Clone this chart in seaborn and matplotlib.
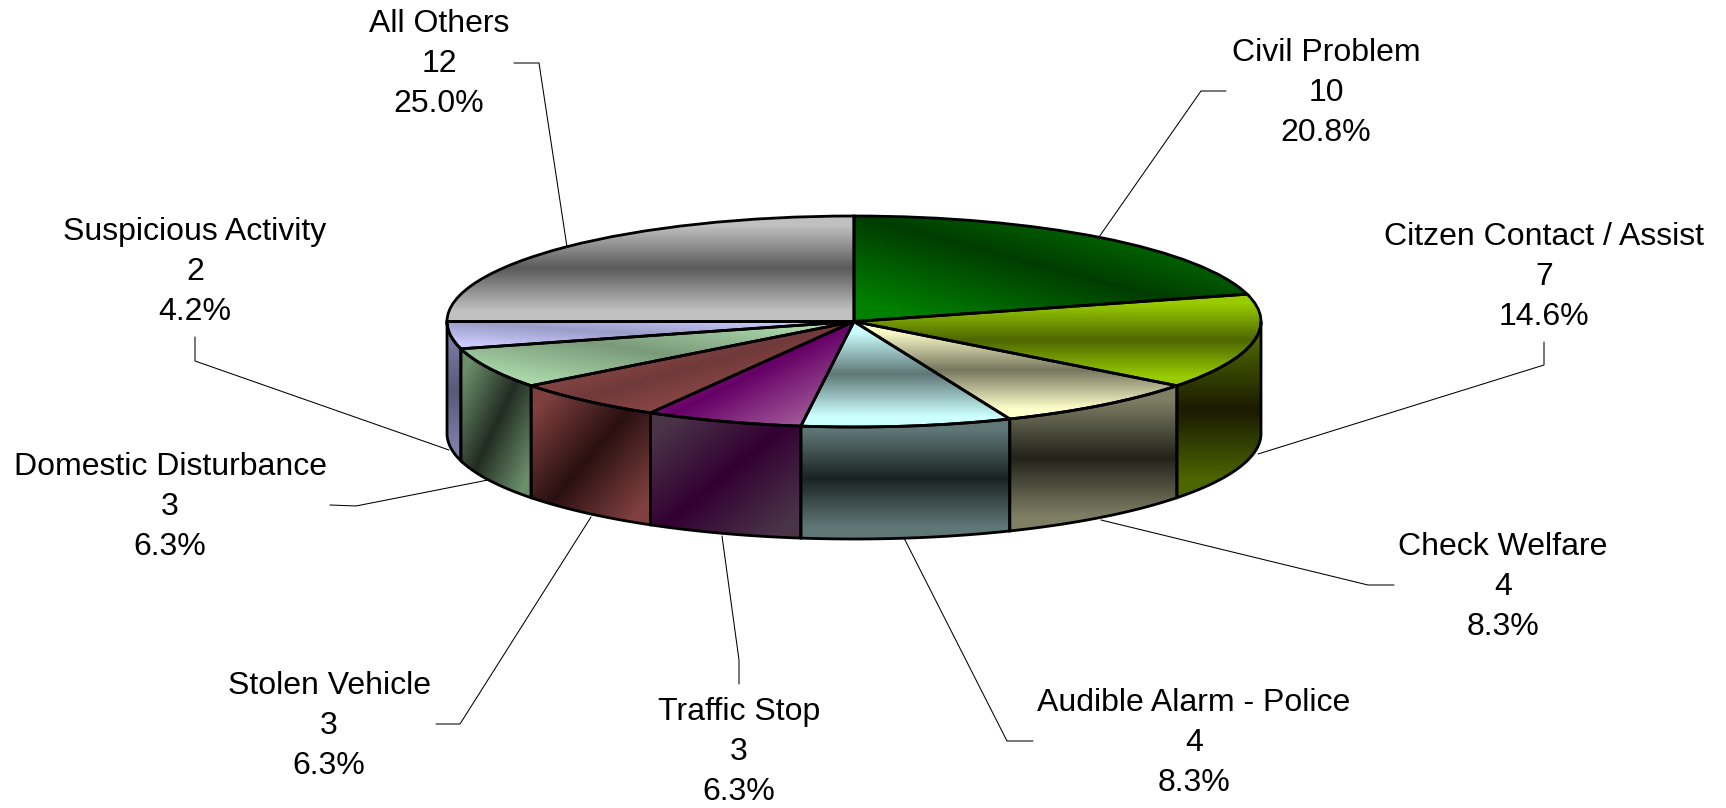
import matplotlib
matplotlib.use("Agg")
import matplotlib.pyplot as plt
import numpy as np
import seaborn as sns
from matplotlib.colors import to_rgb
from matplotlib.patches import Polygon

categories = ["Civil Problem", "Citzen Contact / Assist", "Check Welfare", "Audible Alarm - Police",
              "Traffic Stop", "Stolen Vehicle", "Domestic Disturbance", "Suspicious Activity", "All Others"]
counts = [10, 7, 4, 4, 3, 3, 3, 2, 12]
percents = ["20.8%", "14.6%", "8.3%", "8.3%", "6.3%", "6.3%", "6.3%", "4.2%", "25.0%"]

top_light = ["#008000", "#99CC00", "#FFFFCC", "#CCFFFF", "#A8639F", "#A85454", "#AEDCAE", "#CCCCFF", "#C0C0C0"]
top_dark = ["#003C00", "#4D6600", "#77775F", "#5F7777", "#660066", "#703A3A", "#7A9A7A", "#9C9CC8", "#5A5A5A"]
side_light = ["#004000", "#4D6600", "#7F7F66", "#5F7777", "#4A3448", "#804040", "#6C8F6C", "#7E7EA8", "#606060"]
side_dark = ["#002000", "#1A1A00", "#22221A", "#1A2222", "#330033", "#2A1010", "#222C22", "#585878", "#303030"]
top_mode = ["a", "v", "v", "v", "d", "d", "a", "a", "v"]
side_mode = ["v", "v", "v", "v", "d", "d", "d", "v", "v"]

# label centres and leader lines, in pixels of the 1726x808 picture
label_xy = [(1326, 91), (1544, 275), (1503, 585), (1194, 741), (739, 750), (329, 724), (170, 505), (195, 270), (439, 62)]
leaders = [
    [(1226, 91), (1201, 91), (1099, 237)],
    [(1544, 342), (1544, 365), (1258, 454)],
    [(1394, 585), (1368, 585), (1101, 520)],
    [(1033, 741), (1007, 741), (904, 538)],
    [(739, 684), (739, 660), (722, 536)],
    [(436, 724), (460, 724), (591, 517)],
    [(330, 505), (356, 506), (488, 480)],
    [(195, 337), (195, 361), (449, 450)],
    [(514, 63), (539, 63), (567, 247)],
]

W, H = 1726, 808
CX, CY, RX, RY, DEPTH = 854, 321.5, 407, 105.5, 112
N = 300


def gradient_image(ax, light, dark, mode, x0, x1, y0, y1, clip):
    u, v = np.meshgrid(np.linspace(0, 1, N), np.linspace(0, 1, N))
    if mode == "d":
        t = (u + v) / 2
    elif mode == "a":
        t = (u + 1 - v) / 2
    else:
        t = v
    # the light ends reach full colour a bit before the edge of the box
    shade = np.clip(np.abs(2 * t - 1) * 1.25, 0, 1)[..., None]
    img = np.array(to_rgb(dark)) + (np.array(to_rgb(light)) - np.array(to_rgb(dark))) * shade
    im = ax.imshow(img, extent=(x0, x1, y0, y1), origin="upper", aspect="auto", zorder=2, interpolation="bilinear")
    im.set_clip_path(clip)


sns.set_theme(style="white")
plt.rcParams["font.family"] = ["Liberation Sans", "DejaVu Sans"]

fig = plt.figure(figsize=(W / 100, H / 100), dpi=100)

# labels and leaders sit behind the pie
ax_text = fig.add_axes([0, 0, 1, 1], zorder=0)
ax_text.set_xlim(0, W)
ax_text.set_ylim(H, 0)
ax_text.axis("off")
for name, count, pct, (x, y), line in zip(categories, counts, percents, label_xy, leaders):
    ax_text.text(x, y + 2, f"{name}\n{count}\n{pct}", ha="center", va="center", fontsize=23, color="black", linespacing=1.42)
    ax_text.plot([p[0] for p in line], [p[1] for p in line], color="black", lw=0.75)

ax = fig.add_axes([0, 0, 1, 1], zorder=1)
ax.patch.set_alpha(0)
wedges, _ = ax.pie(counts, startangle=90, counterclock=False, radius=1, colors=sns.color_palette(top_light),
                   wedgeprops={"edgecolor": "black", "linewidth": 2, "fill": False, "zorder": 5})
ax.set_aspect("auto")
depth = DEPTH / RY

for i, w in enumerate(wedges):
    # side wall, only the front half of the disc shows
    lo, hi = max(w.theta1, -180), min(w.theta2, 0)
    if hi > lo:
        a = np.radians(np.linspace(lo, hi, 80))
        px = np.cos(a)
        py = np.sin(a)
        pts = np.concatenate([np.c_[px, py], np.c_[px[::-1], py[::-1] - depth]])
        side = Polygon(pts, closed=True, fill=False, edgecolor="black", linewidth=2, zorder=3)
        ax.add_patch(side)
        gradient_image(ax, side_light[i], side_dark[i], side_mode[i], pts[:, 0].min(), pts[:, 0].max(),
                       pts[:, 1].min(), pts[:, 1].max(), side)

    a = np.radians(np.linspace(w.theta1, w.theta2, 120))
    xs = np.r_[0, np.cos(a)]
    ys = np.r_[0, np.sin(a)]
    gradient_image(ax, top_light[i], top_dark[i], top_mode[i], xs.min(), xs.max(), ys.min(), ys.max(), w)

ax.set_xlim(-CX / RX, (W - CX) / RX)
ax.set_ylim(-(H - CY) / RY, CY / RY)
ax.axis("off")

fig.savefig("out.png", dpi=100)
